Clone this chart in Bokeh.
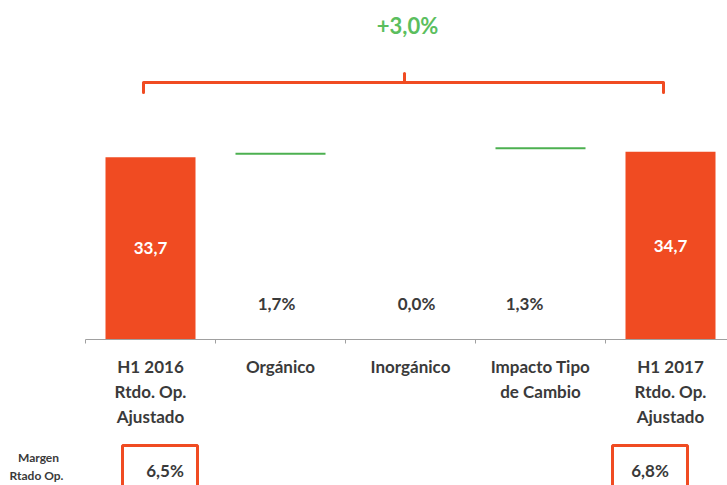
from bokeh.plotting import figure
from bokeh.models import Range1d
from bokeh.core.properties import value
from bokeh.embed import file_html
from bokeh.resources import INLINE

# ---- data ----
categories = ["H1 2016\nRtdo. Op.\nAjustado", "Orgánico", "Inorgánico",
              "Impacto Tipo\nde Cambio", "H1 2017\nRtdo. Op.\nAjustado"]
total_idx = [0, 4]
total_values = [33.7, 34.7]
total_labels = ["33,7", "34,7"]
step_idx = [1, 2, 3]
step_labels = ["1,7%", "0,0%", "1,3%"]
step_levels = [34.33, None, 35.36]   # level of the green step marks
margin_title = ["Margen", "Rtado Op."]
margin_idx = [0, 4]
margin_labels = ["6,5%", "6,8%"]
growth_label = "+3,0%"

# ---- layout constants (picture pixels) ----
W, H = 727, 485
CX0, STEP = 150.0, 130.0     # x of first category centre, category spacing
AXY, S = 339.0, 5.41         # y of zero line, px per unit

def dx(px):
    return (px - CX0) / STEP

def dy(py):
    return (AXY - py) / S

RED = "#F04B22"
GREEN = "#4CB050"
TXT = "#3A3A3A"
FONT = value("Lato")

p = figure(width=W, height=H, output_backend="svg", toolbar_location=None,
           x_range=Range1d(dx(0), dx(W)), y_range=Range1d(dy(H), dy(0)),
           x_axis_location=None, y_axis_location=None, min_border=0,
           outline_line_color=None, background_fill_color="white")
p.grid.visible = False

# total bars
bar_w = 90 / STEP
p.vbar(x=total_idx, top=total_values, bottom=0, width=bar_w,
       fill_color=RED, line_color=None)
p.text(x=total_idx, y=[v / 2 for v in total_values], text=total_labels,
       text_font=FONT, text_font_style="bold", text_font_size="17px",
       text_color="white", text_align="center", text_baseline="middle")

# green step marks
sx, sy = [], []
for i, lv in zip(step_idx, step_levels):
    if lv is not None:
        sx.append(i)
        sy.append(lv)
p.segment(x0=[x - bar_w / 2 for x in sx], x1=[x + bar_w / 2 for x in sx],
          y0=sy, y1=sy, line_color=GREEN, line_width=2)

# step percentages
step_xoff = [-4, 6, -16]
p.text(x=step_idx, y=[dy(303)] * len(step_idx), text=step_labels,
       x_offset=step_xoff, text_font=FONT, text_font_style="bold",
       text_font_size="17px", text_color=TXT, text_align="center",
       text_baseline="middle")

# axis line with ticks at category boundaries
n = len(categories)
p.segment(x0=[-0.5], x1=[dx(W + 5)], y0=[0], y1=[0], line_color="#A0A0A0", line_width=1)
bounds = [i - 0.5 for i in range(n + 1)]
p.segment(x0=bounds, x1=bounds, y0=[0] * len(bounds), y1=[dy(AXY + 4)] * len(bounds),
          line_color="#A0A0A0", line_width=1)

# category labels (multi-line)
lx, ly, lt = [], [], []
for i, c in enumerate(categories):
    for j, line in enumerate(c.split("\n")):
        lx.append(i)
        ly.append(dy(366 + 25 * j))
        lt.append(line)
p.text(x=lx, y=ly, text=lt, text_font=FONT, text_font_style="bold",
       text_font_size="17px", text_color=TXT, text_align="center",
       text_baseline="middle")

# bracket with growth label
bl, br, bc = dx(143), dx(663), dx(404)
p.multi_line(xs=[[bl, bl, br, br], [bc, bc]],
             ys=[[dy(92), dy(82), dy(82), dy(92)], [dy(82), dy(73)]],
             line_color=RED, line_width=3, line_join="round", line_cap="round")
p.text(x=[dx(407)], y=[dy(25)], text=[growth_label], text_font=FONT,
       text_font_style="bold", text_font_size="22px", text_color="#5BBE5E",
       text_align="center", text_baseline="middle")

# operating margin row
p.text(x=[dx(38), dx(36)], y=[dy(457), dy(475)], text=margin_title, text_font=FONT,
       text_font_style="bold", text_font_size="12px", text_color=TXT,
       text_align="center", text_baseline="middle")
box_off = [9.5 / STEP, -20.5 / STEP]
box_cx = [i + o for i, o in zip(margin_idx, box_off)]
box_w = 75 / STEP
p.quad(left=[c - box_w / 2 for c in box_cx], right=[c + box_w / 2 for c in box_cx],
       top=[dy(445)] * 2, bottom=[dy(505)] * 2, fill_color=None,
       line_color=RED, line_width=3)
p.text(x=box_cx, y=[dy(470)] * 2, text=margin_labels, x_offset=[5, 0],
       text_font=FONT, text_font_style="bold", text_font_size="17px",
       text_color=TXT, text_align="center", text_baseline="middle")

open("out.html", "w").write(file_html(p, INLINE))
